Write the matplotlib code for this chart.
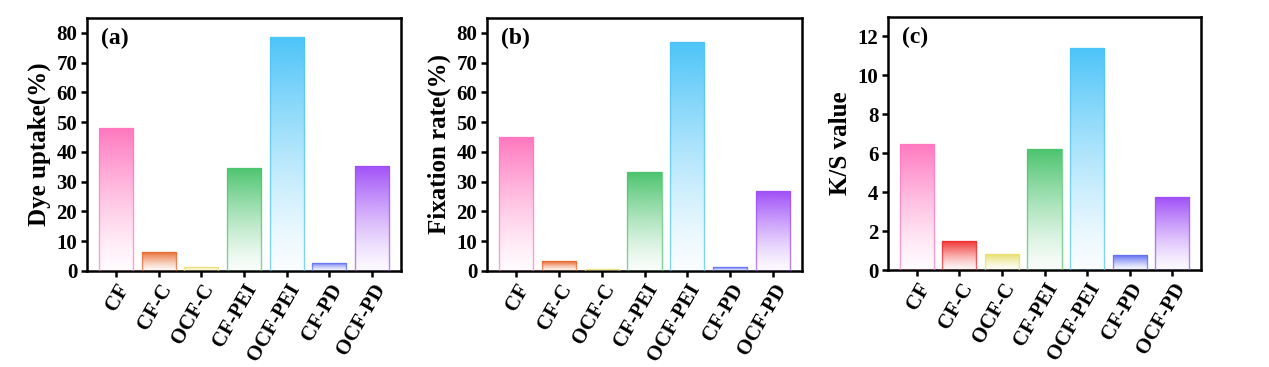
import numpy as np
import matplotlib
matplotlib.use("Agg")
import matplotlib.pyplot as plt
from matplotlib.colors import to_rgb

plt.rcParams['font.family'] = ['Liberation Serif', 'DejaVu Serif']
plt.rcParams['font.weight'] = 'bold'

categories = ["CF", "CF-C", "OCF-C", "CF-PEI", "OCF-PEI", "CF-PD", "OCF-PD"]
dye_uptake = [48.0, 6.5, 1.5, 34.7, 78.5, 2.7, 35.3]
fixation_rate = [45.0, 3.2, 0.8, 33.2, 77.0, 1.2, 26.8]
ks_value = [6.5, 1.5, 0.8, 6.2, 11.4, 0.75, 3.75]

colors_ab = ["#FF78C0", "#E8682C", "#E8E070", "#4CC46E", "#4CC4F8", "#6070F0", "#A050F8"]
colors_c = ["#FF78C0", "#F02C2C", "#E8E070", "#4CC46E", "#4CC4F8", "#6070F0", "#A050F8"]

panels = [
    ("(a)", "Dye uptake(%)", dye_uptake, colors_ab, (0, 85), np.arange(0, 81, 10)),
    ("(b)", "Fixation rate(%)", fixation_rate, colors_ab, (0, 85), np.arange(0, 81, 10)),
    ("(c)", "K/S value", ks_value, colors_c, (0, 13), np.arange(0, 13, 2)),
]

fig = plt.figure(figsize=(12.69, 3.67), dpi=100)
W, H = 1269, 367
axes_px = [(87, 18, 401, 271), (487, 18, 802, 271), (888, 17, 1201, 270)]

def gradient_bar(ax, bar, color):
    x0, y0 = bar.get_x(), bar.get_y()
    w, h = bar.get_width(), bar.get_height()
    rgb = np.array(to_rgb(color))
    n = 256
    t = np.linspace(0, 1, n)[:, None]  # 0 at bottom, 1 at top
    a = 0.03 + 0.97 * t ** 1.3
    img = np.ones((n, 1, 4))
    img[:, 0, :3] = rgb
    img[:, 0, 3] = a[:, 0]
    im = ax.imshow(img, extent=[x0, x0 + w, y0, y0 + h], origin='lower',
                   aspect='auto', zorder=2, interpolation='bicubic')
    im.set_clip_path(bar)

for (lab, ylab, vals, cols, ylim, yt), (l, t, r, b) in zip(panels, axes_px):
    ax = fig.add_axes([l / W, 1 - b / H, (r - l) / W, (b - t) / H])
    x = np.arange(len(categories))
    bars = ax.bar(x, vals, width=0.8, facecolor='none', zorder=3)
    for bar, c in zip(bars, cols):
        bar.set_edgecolor(to_rgb(c) + (0.7,))
        bar.set_linewidth(1.0)
        gradient_bar(ax, bar, c)
    ax.set_xlim(-0.68, len(categories) - 0.32)
    ax.set_ylim(*ylim)
    ax.set_yticks(yt)
    ax.set_xticks(x)
    ax.set_xticklabels(categories, rotation=60, ha='right', rotation_mode='anchor',
                       fontsize=13.5, fontweight='bold')
    ax.tick_params(axis='both', direction='out', width=1.8, length=4, labelsize=15, pad=3)
    for tl in ax.get_yticklabels():
        tl.set_fontweight('bold')
    for s in ax.spines.values():
        s.set_linewidth(1.8)
    ax.set_ylabel(ylab, fontsize=18, fontweight='bold', labelpad=4)
    ax.text(0.045, 0.96, lab, transform=ax.transAxes, fontsize=17,
            fontweight='bold', va='top', ha='left')

fig.savefig("out.png", dpi=100)
